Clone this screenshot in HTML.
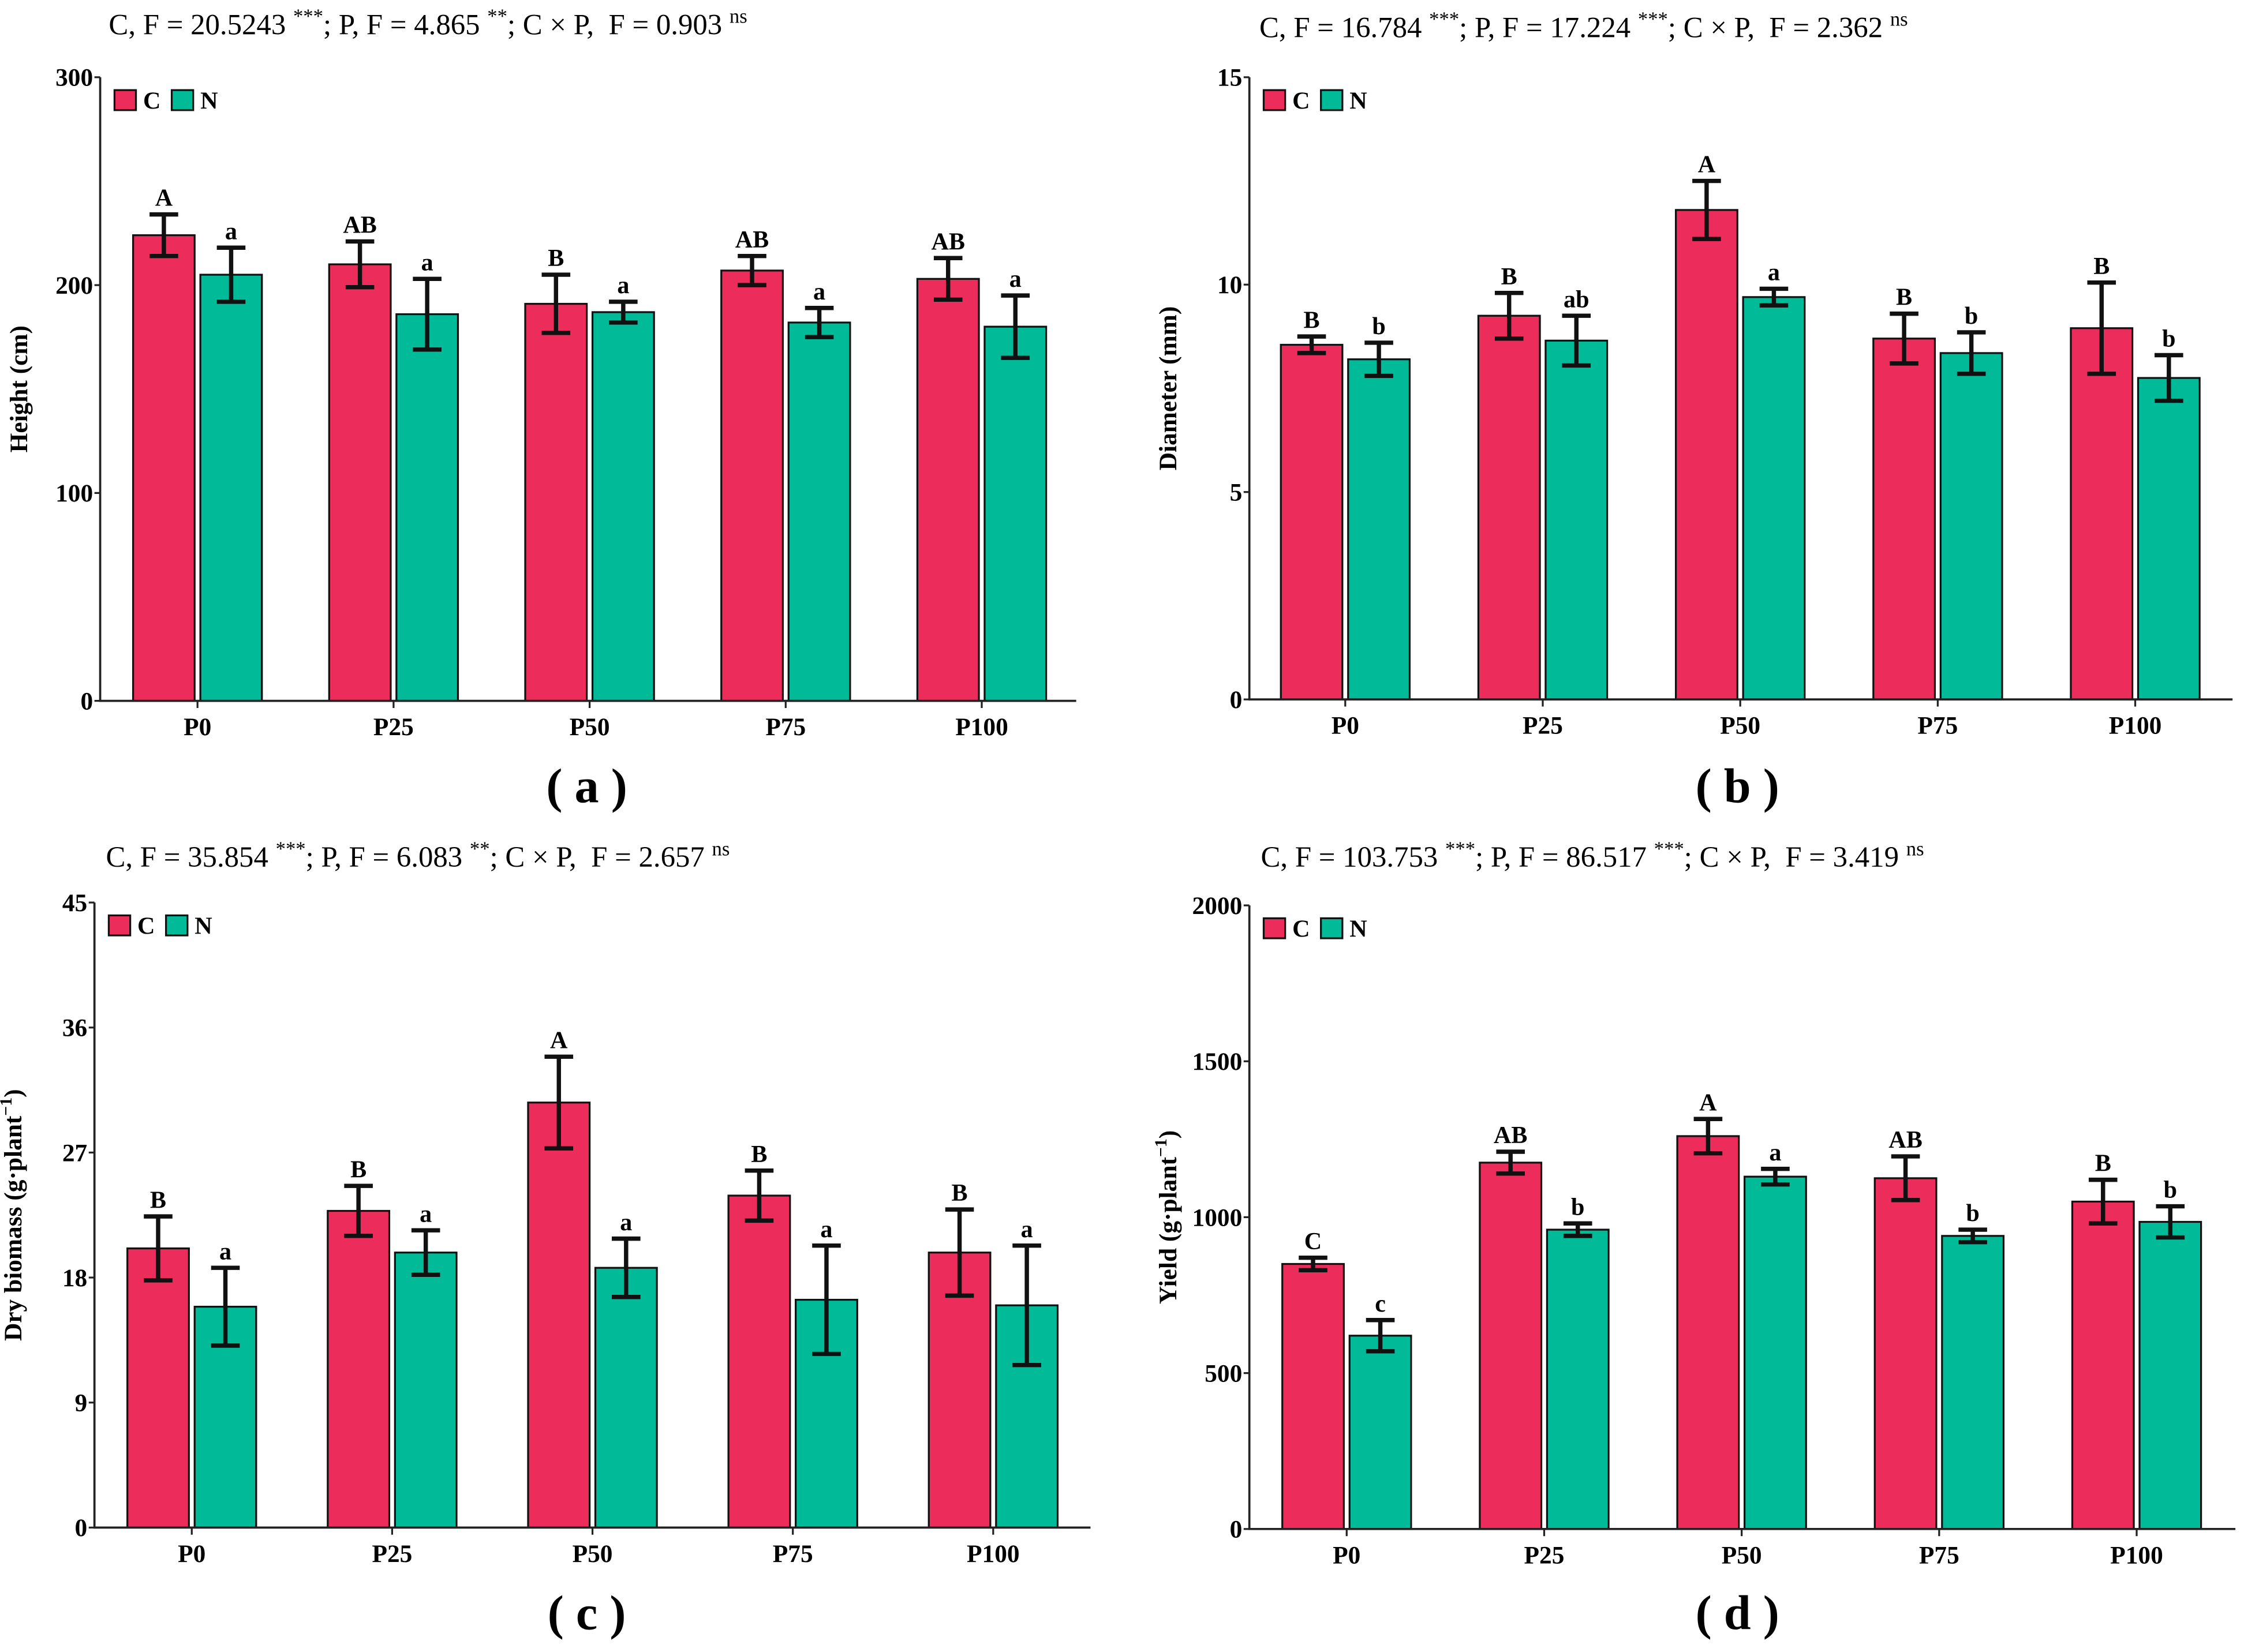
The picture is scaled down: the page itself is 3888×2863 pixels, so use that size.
<!DOCTYPE html>
<html><head><meta charset="utf-8"><style>
html,body{margin:0;padding:0;background:#fff;}
svg{display:block;font-family:"Liberation Serif",serif;}
</style></head><body>
<svg id="chart" width="3888" height="2863" viewBox="0 0 1568 1155" preserveAspectRatio="none" xmlns="http://www.w3.org/2000/svg"></svg>
<script>
const categories = ["P0","P25","P50","P75","P100"];
const heightC = [224,210,191,207,203];
const heightCErr = [10,11,14,7,10];
const heightN = [205,186,187,182,180];
const heightNErr = [13,17,5,7,15];
const heightLetC = ["A","AB","B","AB","AB"];
const heightLetN = ["a","a","a","a","a"];
const heightTicks = [0,100,200,300];
const diamC = [8.55,9.25,11.8,8.7,8.95];
const diamCErr = [0.2,0.55,0.7,0.6,1.1];
const diamN = [8.2,8.65,9.7,8.35,7.75];
const diamNErr = [0.4,0.6,0.2,0.5,0.55];
const diamLetC = ["B","B","A","B","B"];
const diamLetN = ["b","ab","a","b","b"];
const diamTicks = [0,5,10,15];
const bioC = [20.1,22.8,30.6,23.9,19.8];
const bioCErr = [2.3,1.8,3.3,1.8,3.1];
const bioN = [15.9,19.8,18.7,16.4,16.0];
const bioNErr = [2.8,1.6,2.1,3.9,4.3];
const bioLetC = ["B","B","A","B","B"];
const bioLetN = ["a","a","a","a","a"];
const bioTicks = [0,9,18,27,36,45];
const yieldC = [850,1175,1260,1125,1050];
const yieldCErr = [20,35,55,70,70];
const yieldN = [620,960,1130,940,985];
const yieldNErr = [50,20,25,20,50];
const yieldLetC = ["C","AB","A","AB","B"];
const yieldLetN = ["c","b","a","b","b"];
const yieldTicks = [0,500,1000,1500,2000];

const NS="http://www.w3.org/2000/svg";
const svg=document.getElementById('chart');
function mk(tag,attrs,parent,text){const e=document.createElementNS(NS,tag);for(const k in attrs)e.setAttribute(k,attrs[k]);if(text!==undefined)e.textContent=text;(parent||svg).appendChild(e);return e;}

function panel(o){
  const g=mk('g',{});
  
  
  const yMax=o.ticks[o.ticks.length-1];
  const ys=v=>o.y0-(v/yMax)*(o.y0-o.yTop);
  const xs=i=>o.x0+i*o.step;
  const t=mk('text',{x:o.titleX,y:o.titleY,'font-size':20.5},g);
  
  
  o.title.forEach(p=>{mk('tspan',p.sup?{'font-size':14,dy:-8}:{dy:p.down?8:0},t,p.s);});
  const series=[{v:o.c,e:o.ce,l:o.lc,col:'#ec2d5c',off:-45,name:'c'},{v:o.n,e:o.ne,l:o.ln,col:'#00ba98',off:2,name:'n'}];
  series.forEach(s=>{
    s.v.forEach((v,i)=>{
      const x=xs(i)+s.off;
      const r=mk('rect',{x:x,y:ys(v),width:43,height:o.y0-ys(v),fill:s.col,stroke:'#111','stroke-width':1.3},g);
      
      
      const cx=x+21.5,hi=ys(v+s.e[i]),lo=ys(v-s.e[i]);
      const eb=mk('path',{d:`M${cx},${hi}V${lo}M${cx-10},${hi}H${cx+10}M${cx-10},${lo}H${cx+10}`,stroke:'#111','stroke-width':3,fill:'none'},g);
      
      
      const lt=mk('text',{x:cx,y:hi-6,'font-size':17,'font-weight':'bold','text-anchor':'middle'},g,s.l[i]);
      
      
    });
  });
  const ax=mk('path',{d:`M${o.ax},${o.yTop}V${o.y0}H${o.xEnd}`,stroke:'#222','stroke-width':1.5,fill:'none'},g);
  
  
  o.ticks.forEach(tv=>{
    mk('line',{x1:o.ax-4,x2:o.ax,y1:ys(tv),y2:ys(tv),stroke:'#222','stroke-width':1.3},g);
    const tl=mk('text',{x:o.ax-5,y:ys(tv)+6,'font-size':17.5,'font-weight':'bold','text-anchor':'end'},g,tv);
    
    
  });
  categories.forEach((c,i)=>{
    mk('line',{x1:xs(i),x2:xs(i),y1:o.y0,y2:o.y0+5,stroke:'#222','stroke-width':1.3},g);
    const cl=mk('text',{x:xs(i),y:o.y0+24,'font-size':17.5,'font-weight':'bold','text-anchor':'middle'},g,c);
    
    
  });
  const yt=mk('text',{x:0,y:0,'font-size':17.5,'font-weight':'bold','text-anchor':'middle',transform:`translate(${o.ax-51},${(o.yTop+o.y0)/2}) rotate(-90)`},g);
  
  
  o.ylab.forEach(p=>mk('tspan',p.sup?{'font-size':12,dy:-7}:{dy:p.down?7:0},yt,p.s));
  const lg=mk('g',{},g);
  
  
  const lx=o.ax+10,ly=o.yTop+9;
  mk('rect',{x:lx,y:ly,width:15,height:14,fill:'#ec2d5c',stroke:'#111','stroke-width':1.3},lg);
  mk('text',{x:lx+20,y:ly+13,'font-size':17,'font-weight':'bold'},lg,'C');
  mk('rect',{x:lx+40,y:ly,width:15,height:14,fill:'#00ba98',stroke:'#111','stroke-width':1.3},lg);
  mk('text',{x:lx+60,y:ly+13,'font-size':17,'font-weight':'bold'},lg,'N');
  const cap=mk('text',{x:o.capX,y:o.capY,'font-size':34,'font-weight':'bold','text-anchor':'middle'},g,'( '+o.id+' )');
  
  
}
function T(a,b,c,sa,sb){return [{s:'C, F = '+a+' '},{s:sa,sup:1},{s:'; P, F = '+b+' ',down:1},{s:sb,sup:1},{s:'; C × P,\u00a0\u00a0F = '+c+' ',down:1},{s:'ns',sup:1}];}
panel({id:'a',ax:70,x0:138,step:137,xEnd:752,yTop:54,y0:490,ticks:heightTicks,c:heightC,ce:heightCErr,n:heightN,ne:heightNErr,lc:heightLetC,ln:heightLetN,
  title:T('20.5243','4.865','0.903','***','**'),titleX:76,titleY:24,ylab:[{s:'Height (cm)'}],capX:410,capY:561});
panel({id:'b',ax:873,x0:940,step:138,xEnd:1560,yTop:54,y0:489,ticks:diamTicks,c:diamC,ce:diamCErr,n:diamN,ne:diamNErr,lc:diamLetC,ln:diamLetN,
  title:T('16.784','17.224','2.362','***','***'),titleX:880,titleY:26,ylab:[{s:'Diameter (mm)'}],capX:1214,capY:561});
panel({id:'c',ax:66,x0:134,step:140,xEnd:762,yTop:631,y0:1068,ticks:bioTicks,c:bioC,ce:bioCErr,n:bioN,ne:bioNErr,lc:bioLetC,ln:bioLetN,
  title:T('35.854','6.083','2.657','***','**'),titleX:74,titleY:606,ylab:[{s:'Dry biomass (g·plant'},{s:'−1',sup:1},{s:')',down:1}],capX:410,capY:1139});
panel({id:'d',ax:873,x0:941,step:138,xEnd:1562,yTop:633,y0:1069,ticks:yieldTicks,c:yieldC,ce:yieldCErr,n:yieldN,ne:yieldNErr,lc:yieldLetC,ln:yieldLetN,
  title:T('103.753','86.517','3.419','***','***'),titleX:881,titleY:606,ylab:[{s:'Yield (g·plant'},{s:'−1',sup:1},{s:')',down:1}],capX:1214,capY:1139});
</script>
</body></html>
